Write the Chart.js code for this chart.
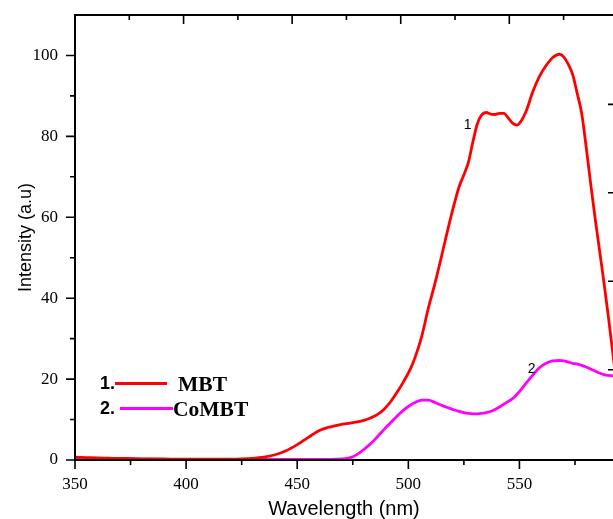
<!DOCTYPE html>
<html>
<head>
<meta charset="utf-8">
<script src="https://cdn.jsdelivr.net/npm/chart.js@4.4.1/dist/chart.umd.min.js"></script>
<style>
html,body{margin:0;padding:0;background:#fff;}
canvas{display:block;}
</style>
</head>
<body>
<canvas id="c" width="613" height="519"></canvas>
<script>
// ---- data ----
const wavelength = [350,355,360,365,370,380,390,400,410,420,425,430,435,440,445,450,455,460,465,470,474,477,480,483,486,489,492,495,498,501,503,506,509,512,515,518,521,523,525,527,529,531,533,535,537,539,541,543,545,547,549,551,553,556,559,562,565,568,570,572,574,576,578,580,582,584,586,588,590,592,594];
const mbtIntensity = [0.7,0.6,0.5,0.45,0.4,0.3,0.25,0.2,0.2,0.2,0.25,0.4,0.7,1.3,2.3,3.8,5.6,7.3,8.2,8.8,9.1,9.4,9.8,10.4,11.2,12.5,14.4,16.8,19.5,22.6,25.3,30.5,37.5,43.7,50.5,57.5,64,67.8,70.5,73.5,78.5,83,85.3,85.9,85.5,85.4,85.7,85.7,84.5,83.2,82.8,84,86.2,91,94.8,97.5,99.5,100.3,99.6,97.8,95.2,90.6,85.7,77.5,68.5,60,52,44,35.5,26.5,17];
const combtIntensity = [0.5,0.4,0.35,0.3,0.25,0.2,0.15,0.15,0.15,0.15,0.15,0.15,0.15,0.15,0.15,0.15,0.15,0.15,0.15,0.25,0.6,1.4,2.6,4.0,5.7,7.5,9.2,10.9,12.4,13.6,14.2,14.8,14.8,14.2,13.5,12.9,12.3,12.0,11.7,11.5,11.4,11.4,11.5,11.7,12.0,12.5,13.1,13.8,14.5,15.2,16.3,17.6,19.0,21.0,22.8,23.9,24.5,24.6,24.5,24.2,23.9,23.7,23.4,23.0,22.5,22.0,21.5,21.1,20.9,20.8,20.8];
const seriesNames = ['MBT', 'CoMBT'];
const seriesNumbers = ['1.', '2.'];
const xTickLabels = [350, 400, 450, 500, 550];
const xMinorTicks = [375, 425, 475, 525, 575];
const yTickLabels = [0, 20, 40, 60, 80, 100];
const yMinorTicks = [10, 30, 50, 70, 90];
const topAxisTicks = [1, 2, 3, 4, 5, 6, 7, 8, 9];
const rightAxisTicks = [1, 2, 3, 4];
const curveLabels = [{text: '1', x: 526.7, y: 82.8}, {text: '2', x: 555.5, y: 22.5}];

const toPts = (ys) => wavelength.map((w, i) => ({x: w, y: ys[i]}));

const decor = {
  id: 'decor',
  afterDraw(chart) {
    const {ctx, chartArea: a, scales} = chart;
    const {x, y, x2, y2} = scales;
    ctx.save();
    ctx.strokeStyle = '#000';
    ctx.lineWidth = 2;
    ctx.beginPath();
    ctx.moveTo(a.left - 1, a.top); ctx.lineTo(a.right, a.top);
    ctx.moveTo(a.left, a.top); ctx.lineTo(a.left, a.bottom + 1);
    ctx.moveTo(a.left - 1, a.bottom); ctx.lineTo(a.right, a.bottom);
    ctx.stroke();
    ctx.lineWidth = 1.6;
    ctx.beginPath();
    xTickLabels.forEach(v => { const p = x.getPixelForValue(v); ctx.moveTo(p, a.bottom); ctx.lineTo(p, a.bottom + 9); });
    xMinorTicks.forEach(v => { const p = x.getPixelForValue(v); ctx.moveTo(p, a.bottom); ctx.lineTo(p, a.bottom + 5); });
    yTickLabels.forEach(v => { const p = y.getPixelForValue(v); ctx.moveTo(a.left, p); ctx.lineTo(a.left - 9, p); });
    yMinorTicks.forEach(v => { const p = y.getPixelForValue(v); ctx.moveTo(a.left, p); ctx.lineTo(a.left - 5, p); });
    topAxisTicks.forEach(v => { const p = x2.getPixelForValue(v); ctx.moveTo(p, a.top); ctx.lineTo(p, a.top + (v % 2 === 0 ? 9 : 5)); });
    rightAxisTicks.forEach(v => { const p = y2.getPixelForValue(v); ctx.moveTo(a.right, p); ctx.lineTo(a.right - 5, p); });
    ctx.stroke();

    // curve number labels
    ctx.fillStyle = '#000';
    ctx.font = '14px "Liberation Sans", Arial, sans-serif';
    ctx.textAlign = 'center';
    ctx.textBaseline = 'middle';
    curveLabels.forEach(l => ctx.fillText(l.text, x.getPixelForValue(l.x), y.getPixelForValue(l.y)));

    // legend
    const ds = chart.data.datasets;
    const rows = [
      {numX: 100, cy: 384, lx0: 115, lx1: 167, ly: 383.5, tx: 178},
      {numX: 100, cy: 409, lx0: 120, lx1: 173, ly: 408.5, tx: 173}
    ];
    rows.forEach((r, i) => {
      ctx.textAlign = 'left';
      ctx.fillStyle = '#000';
      ctx.font = 'bold 18px "Liberation Sans", Arial, sans-serif';
      ctx.fillText(seriesNumbers[i], r.numX, r.cy);
      ctx.strokeStyle = ds[i].borderColor;
      ctx.lineWidth = 3;
      ctx.beginPath(); ctx.moveTo(r.lx0, r.ly); ctx.lineTo(r.lx1, r.ly); ctx.stroke();
      ctx.font = 'bold 21.5px "Liberation Serif", "Times New Roman", serif';
      ctx.fillText(ds[i].label, r.tx, r.cy + 1);
    });
    ctx.restore();
  }
};

new Chart(document.getElementById('c'), {
  type: 'line',
  data: {
    datasets: [
      {label: seriesNames[0], data: toPts(mbtIntensity), borderColor: '#ff0000', borderWidth: 2.8, pointRadius: 0, cubicInterpolationMode: 'monotone', fill: false},
      {label: seriesNames[1], data: toPts(combtIntensity), borderColor: '#ff00ff', borderWidth: 2.8, pointRadius: 0, cubicInterpolationMode: 'monotone', fill: false}
    ]
  },
  options: {
    responsive: false,
    animation: false,
    events: [],
    layout: {padding: {top: 15, right: 0, bottom: 0, left: 0}},
    plugins: {legend: {display: false}, tooltip: {enabled: false}},
    scales: {
      x: {
        type: 'linear', min: 350, max: 592.1,
        afterBuildTicks: s => { s.ticks = xTickLabels.map(v => ({value: v})); },
        afterFit: s => { s.height = 59; s.paddingRight = 0; },
        grid: {display: false, drawTicks: false},
        border: {display: false},
        ticks: {color: '#000', padding: 16, font: {family: '"Liberation Serif", "Times New Roman", serif', size: 17, lineHeight: 1}},
        title: {display: true, text: 'Wavelength (nm)', color: '#000', padding: {top: 0, bottom: 0}, font: {family: '"Liberation Sans", Arial, sans-serif', size: 20, lineHeight: 1}}
      },
      y: {
        type: 'linear', min: 0, max: 110,
        afterBuildTicks: s => { s.ticks = yTickLabels.map(v => ({value: v})); },
        afterFit: s => { s.width = 75; s.paddingTop = 0; s.paddingBottom = 0; },
        grid: {display: false, drawTicks: false},
        border: {display: false},
        ticks: {color: '#000', padding: 17, font: {family: '"Liberation Serif", "Times New Roman", serif', size: 17, lineHeight: 1}},
        title: {display: true, text: 'Intensity (a.u)', color: '#000', padding: {top: 17, bottom: 0}, font: {family: '"Liberation Sans", Arial, sans-serif', size: 18, lineHeight: 1}}
      },
      x2: {type: 'linear', position: 'top', display: false, min: 0, max: 9.91},
      y2: {type: 'linear', position: 'right', display: false, reverse: true, min: -0.01, max: 5.02}
    }
  },
  plugins: [decor]
});
</script>
</body>
</html>
